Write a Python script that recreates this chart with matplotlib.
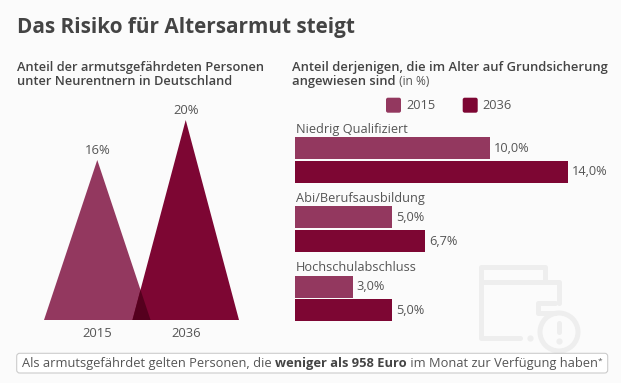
import matplotlib
matplotlib.use("Agg")
import matplotlib.pyplot as plt
from matplotlib.patches import Circle, FancyBboxPatch

W, H = 621, 383
BG = "#fbfbfb"
COLOR_2015 = "#93385f"
COLOR_2036 = "#7d0633"
COLOR_OVERLAP = "#55001e"
TEXT = "#555555"
DARK = "#444444"
ICON = "#eeeeee"

years = ["2015", "2036"]
risk_share = [16, 20]

groups = ["Niedrig Qualifiziert", "Abi/Berufsausbildung", "Hochschulabschluss"]
values_2015 = [10.0, 5.0, 3.0]
values_2036 = [14.0, 6.7, 5.0]

plt.rcParams["font.family"] = ["Open Sans", "DejaVu Sans"]

fig = plt.figure(figsize=(W / 100, H / 100), dpi=100, facecolor=BG)


def px_axes(left, top, right, bottom, **kwargs):
    """Axes placed by pixel edges, measured from the top left of the figure."""
    box = [left / W, 1 - bottom / H, (right - left) / W, (bottom - top) / H]
    ax = fig.add_axes(box, **kwargs)
    ax.axis("off")
    ax.patch.set_alpha(0)
    return ax


# overlay in pixel coordinates for text, icon and footer box
page = px_axes(0, 0, W, H)
page.set_xlim(0, W)
page.set_ylim(H, 0)

# watermark wallet icon
icon_style = dict(color=ICON, lw=3.6, solid_capstyle="round", solid_joinstyle="round")
page.plot([545, 545, 481, 481, 520], [282, 267, 267, 338, 338], **icon_style)
page.plot([481, 559, 559], [282, 282, 303], **icon_style)
page.plot([555, 538, 538, 555], [303, 303, 313, 313], **icon_style)
page.plot([530], [338], "o", color=ICON, ms=4.5, mew=0)
page.add_patch(Circle((559, 332), 19, fc=BG, ec=ICON, lw=3.6))
page.plot([559, 559], [323, 332], **icon_style)
page.plot([559], [341], "o", color=ICON, ms=4.5, mew=0)

# triangles, height follows the value
tri = px_axes(44, 120, 239, 320)
half = 0.6023
tri.set_xlim(-half, 1 + half)
tri.set_ylim(0, 20)
left_tri = tri.fill([0 - half, 0, 0 + half], [0, risk_share[0], 0], color=COLOR_2015, lw=0)[0]
tri.fill([1 - half, 1, 1 + half], [0, risk_share[1], 0], color=COLOR_2036, lw=0)
overlap = tri.fill([1 - half, 1, 1 + half], [0, risk_share[1], 0], color=COLOR_OVERLAP, lw=0)[0]
overlap.set_clip_path(left_tri.get_path(), left_tri.get_transform())
for i, (year, value) in enumerate(zip(years, risk_share)):
    tri.annotate(f"{value}%", (i, value), xytext=(0, 2.5), textcoords="offset points",
                 ha="center", va="bottom", fontsize=9.4, color=TEXT, annotation_clip=False)
    tri.annotate(year, (i, 0), xytext=(0, -5), textcoords="offset points",
                 ha="center", va="top", fontsize=9.4, color=TEXT, annotation_clip=False)

# bars, scale from the 14 % bar: 19.54 px per point
bars = px_axes(294.5, 120, 294.5 + 19.54 * 16, 330)
bars.set_xlim(0, 16)
bars.set_ylim(330, 120)
bar_h = 22
for i, group in enumerate(groups):
    top = 148.3 + 69.2 * i
    bot = 172 + 69.2 * i
    bars.barh(top, values_2015[i], height=bar_h, color=COLOR_2015)
    bars.barh(bot, values_2036[i], height=bar_h, color=COLOR_2036)
    bars.text(0.07, top - 12.5, group, va="bottom", ha="left", fontsize=9.2, color=TEXT)
    for y, v in [(top, values_2015[i]), (bot, values_2036[i])]:
        bars.annotate(f"{v:.1f}%".replace(".", ","), (v, y), xytext=(2.6, 0),
                      textcoords="offset points", va="center", ha="left",
                      fontsize=9.2, color=TEXT, annotation_clip=False)

# titles
page.text(17, 28, "Das Risiko für Altersarmut steigt", fontsize=14.95, fontweight="bold",
          color=DARK, va="center")
page.text(17, 67, "Anteil der armutsgefährdeten Personen", fontsize=9.3, fontweight="semibold",
          color=DARK, va="center")
page.text(17, 81.5, "unter Neurentnern in Deutschland", fontsize=9.3, fontweight="semibold",
          color=DARK, va="center")
page.text(292, 67, "Anteil derjenigen, die im Alter auf Grundsicherung", fontsize=9.35,
          fontweight="semibold", color=DARK, va="center")
t = page.text(292, 81.5, "angewiesen sind", fontsize=9.35, fontweight="semibold",
              color=DARK, va="center")
page.annotate(" (in %)", xy=(1, 0.5), xycoords=t, va="center", fontsize=8.6, color=TEXT)

# legend
for x, year, color in [(386, years[0], COLOR_2015), (462.7, years[1], COLOR_2036)]:
    page.add_patch(FancyBboxPatch((x, 97.7), 15, 15, boxstyle="round,pad=0,rounding_size=2",
                                  fc=color, ec="none"))
    page.text(x + 20, 105.5, year, fontsize=9.2, color=TEXT, va="center")

# footer box
page.add_patch(FancyBboxPatch((16.7, 353.3), 591, 19.7, boxstyle="round,pad=0,rounding_size=3",
                              fc="white", ec="#cccccc", lw=0.8))
a = page.text(22, 363, "Als armutsgefährdet gelten Personen, die ", fontsize=9.27,
              color=TEXT, va="center")
b = page.annotate("weniger als 958 Euro", xy=(1, 0.5), xycoords=a, va="center", fontsize=9.27,
                  fontweight="bold", color=DARK)
c = page.annotate(" im Monat zur Verfügung haben", xy=(1, 0.5), xycoords=b, va="center",
                  fontsize=9.27, color=TEXT)
page.annotate("*", xy=(1, 0.62), xycoords=c, va="center", fontsize=6, color=TEXT)

fig.savefig("out.png", dpi=100, facecolor=BG)
plt.close(fig)
